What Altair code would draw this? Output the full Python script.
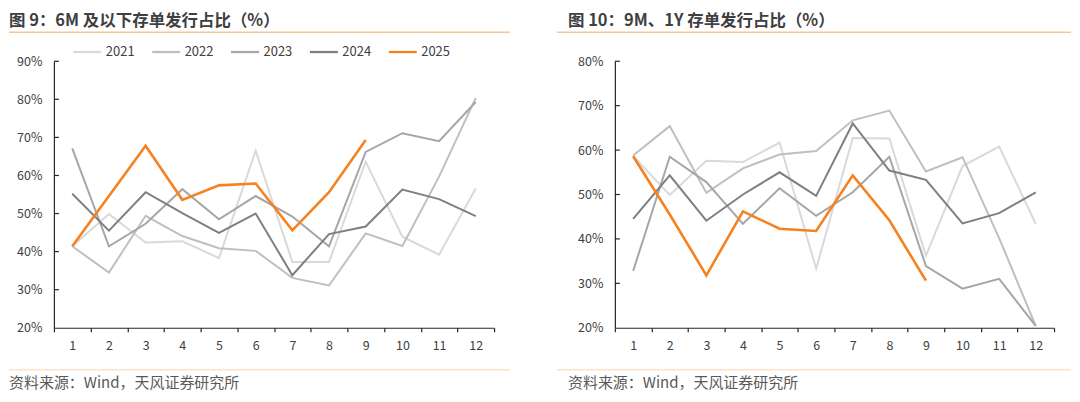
import altair as alt
import pandas as pd

months = list(range(1, 13))
years = ["2021", "2022", "2023", "2024", "2025"]
colors = ["#d9d9d9", "#bfbfbf", "#a6a6a6", "#7f7f7f", "#f5821f"]

# 图9: 6M 及以下存单发行占比 (%)
short_2021 = [41.4, 49.9, 42.4, 42.7, 38.3, 66.5, 37.3, 37.3, 63.6, 43.9, 39.2, 56.6]
short_2022 = [41.4, 34.5, 49.4, 44.1, 40.9, 40.2, 33.1, 31.1, 44.8, 41.5, 59.7, 80.4]
short_2023 = [67.1, 41.4, 47.3, 56.4, 48.5, 54.6, 49.2, 41.4, 66.2, 71.1, 69.0, 79.3]
short_2024 = [55.2, 45.5, 55.6, 50.1, 44.9, 50.0, 33.8, 44.6, 46.6, 56.3, 53.8, 49.3]
short_2025 = [41.4, 54.6, 67.8, 53.6, 57.4, 57.9, 45.6, 55.6, 69.3]

# 图10: 9M、1Y 存单发行占比 (%)
long_2021 = [58.6, 49.9, 57.6, 57.3, 61.7, 33.3, 62.7, 62.6, 36.2, 56.4, 60.8, 43.4]
long_2022 = [58.8, 65.4, 50.4, 55.9, 59.0, 59.8, 66.7, 68.9, 55.2, 58.4, 40.2, 20.4]
long_2023 = [32.8, 58.5, 52.8, 43.4, 51.4, 45.2, 50.5, 58.5, 33.9, 28.8, 31.0, 20.4]
long_2024 = [44.5, 54.3, 44.1, 50.0, 55.0, 49.7, 66.0, 55.4, 53.3, 43.5, 45.8, 50.5]
long_2025 = [58.6, 45.5, 31.8, 46.2, 42.3, 41.8, 54.3, 44.2, 30.6]

left_ticks = [20, 30, 40, 50, 60, 70, 80, 90]
right_ticks = [20, 30, 40, 50, 60, 70, 80]

left_title = "图 9：6M 及以下存单发行占比（%）"
right_title = "图 10：9M、1Y 存单发行占比（%）"
source_text = "资料来源：Wind，天风证券研究所"

FONT = "Noto Sans CJK SC"
AXIS_COLOR = "#262626"
LABEL_COLOR = "#404040"


def make_df(series):
    rows = []
    for yr, vals in zip(years, series):
        for m, v in zip(months, vals):
            rows.append({"month": m, "year": yr, "value": v})
    return pd.DataFrame(rows)


def panel(df, ticks, title, W, H, rule_x1, rule_x2, title_x, legend_x):
    x = alt.X(
        "month:O",
        scale=alt.Scale(type="band", paddingInner=0, paddingOuter=0),
        axis=alt.Axis(
            title=None, labelAngle=0, tickBand="extent", tickSize=4,
            labelPadding=8, domainColor=AXIS_COLOR, tickColor=AXIS_COLOR,
            labelColor=LABEL_COLOR, labelFontSize=12.5, labelFont=FONT,
            grid=False, domainWidth=1.2, tickWidth=1.2,
        ),
    )
    yscale = alt.Scale(domain=[ticks[0], ticks[-1]], nice=False, zero=False)
    yaxis = alt.Axis(
        title=None, values=ticks, labelExpr="datum.value + '%'",
        ticks=False, labelPadding=12, grid=False, domainColor=AXIS_COLOR,
        labelColor=LABEL_COLOR, labelFontSize=12.5, labelFont=FONT,
        domainWidth=1.2,
    )
    lines = alt.Chart(df).mark_line(strokeJoin="miter").encode(
        x=x,
        y=alt.Y("value:Q", scale=yscale, axis=yaxis),
        color=alt.Color(
            "year:N",
            scale=alt.Scale(domain=years, range=colors),
            legend=alt.Legend(
                orient="none", legendX=legend_x, legendY=-25,
                direction="horizontal", title=None, symbolType="stroke",
                symbolSize=784, symbolStrokeWidth=2.3, labelFontSize=13,
                labelFont=FONT, labelColor=LABEL_COLOR, labelOffset=3,
                columnPadding=12, padding=0,
            ),
        ),
        strokeWidth=alt.condition("datum.year == '2025'", alt.value(2.6), alt.value(2)),
    )
    ytick = alt.Chart(pd.DataFrame({"value": ticks[1:]})).mark_rule(
        color=AXIS_COLOR, strokeWidth=1.2
    ).encode(y=alt.Y("value:Q", scale=yscale, axis=yaxis), x=alt.value(0), x2=alt.value(5))
    one = pd.DataFrame({"t": [title], "s": [source_text]})
    title_mark = alt.Chart(one).mark_text(
        align="left", baseline="top", fontSize=16.5, fontWeight="bold",
        font=FONT, color="#3f3f3f",
    ).encode(x=alt.value(title_x), y=alt.value(-48), text="t:N")
    top_rule = alt.Chart(one).mark_rule(color="#f8c594", strokeWidth=1.5).encode(
        x=alt.value(rule_x1), x2=alt.value(rule_x2), y=alt.value(-29)
    )
    bottom_rule = alt.Chart(one).mark_rule(color="#fbe2cb", strokeWidth=1.5).encode(
        x=alt.value(rule_x1), x2=alt.value(rule_x2), y=alt.value(H + 42)
    )
    src_mark = alt.Chart(one).mark_text(
        align="left", baseline="bottom", fontSize=15, font=FONT, color="#595959",
    ).encode(x=alt.value(title_x), y=alt.value(H + 63), text="s:N")
    return alt.layer(
        top_rule, bottom_rule, title_mark, src_mark, lines, ytick
    ).properties(width=W, height=H)


left = panel(
    make_df([short_2021, short_2022, short_2023, short_2024, short_2025]),
    left_ticks, left_title, 441, 267, -45, 457, -45, 18,
)
right = panel(
    make_df([long_2021, long_2022, long_2023, long_2024, long_2025]),
    right_ticks, right_title, 440, 267, -58, 457, -47, 29,
)

chart = (
    alt.hconcat(left, right, spacing=45)
    .properties(padding={"top": 5, "left": 0, "right": 0, "bottom": 0})
    .configure_view(stroke=None)
)

chart.save("out.html", embed_options={"renderer": "svg", "actions": False})
